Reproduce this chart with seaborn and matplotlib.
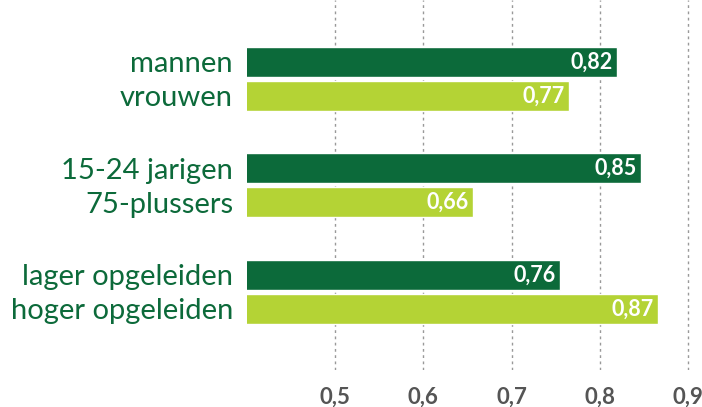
import numpy as np
import pandas as pd
import matplotlib.pyplot as plt
import seaborn as sns

labels = ["mannen", "vrouwen", "15-24 jarigen", "75-plussers", "lager opgeleiden", "hoger opgeleiden"]
values = [0.82, 0.765, 0.847, 0.656, 0.755, 0.866]
value_labels = ["0,82", "0,77", "0,85", "0,66", "0,76", "0,87"]
kinds = ["a", "b", "a", "b", "a", "b"]
ticks = [0.5, 0.6, 0.7, 0.8, 0.9]

dark = "#0c6a3a"
light = "#b4d335"

sns.set_style("white")
plt.rcParams["font.family"] = ["Lato", "DejaVu Sans"]

# two bars per group, with a gap between groups
pos = [(i // 2) * 3.13 + (i % 2) for i in range(len(labels))]
data = pd.DataFrame({"pos": pos, "value": values, "kind": kinds})

fig = plt.figure(figsize=(7.02, 4.07), dpi=100)
ax = fig.add_axes([247 / 702, 37 / 407, 1 - 247 / 702, 370 / 407])

sns.barplot(data=data, x="value", y="pos", hue="kind", orient="h", native_scale=True,
            dodge=False, width=0.88, palette={"a": dark, "b": light}, saturation=1,
            legend=False, ax=ax, zorder=3)

ax.set_xlim(0.4, 0.9 + 14 / 883)
ax.set_ylim(9.06, -1.82)

for x in ticks:
    ax.axvline(x, color="#999999", linestyle=(0, (2, 2.5)), linewidth=1, zorder=1)

for p, v, s in zip(pos, values, value_labels):
    ax.text(v - 0.005, p, s, color="white", fontsize=15.5,
            fontweight="bold", ha="right", va="center", zorder=4)

ax.set_yticks(pos)
ax.set_yticklabels(labels, color=dark, fontsize=21)
ax.set_xticks(ticks)
ax.set_xticklabels([f"{t:.1f}".replace(".", ",") for t in ticks], color="#555555",
                   fontsize=16, fontweight="bold")
ax.tick_params(axis="y", length=0, pad=10)
ax.tick_params(axis="x", length=0, pad=12)
ax.set_xlabel("")
ax.set_ylabel("")
sns.despine(ax=ax, left=True, bottom=True)

fig.savefig("out.png", dpi=100)
